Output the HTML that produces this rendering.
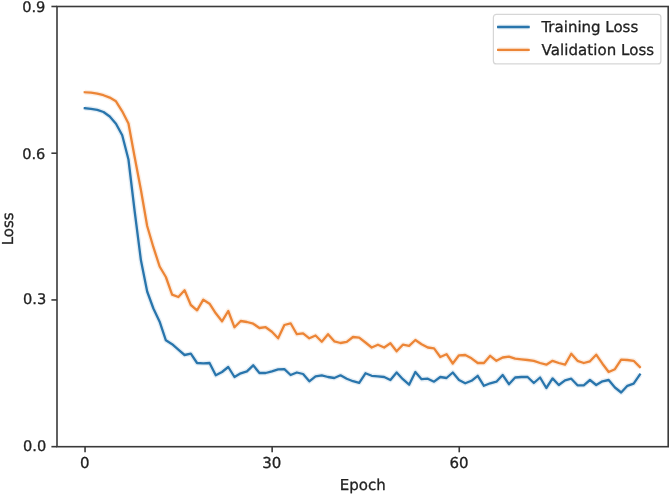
<!DOCTYPE html>
<html><head><meta charset="utf-8"><title>Loss</title>
<style>html,body{margin:0;padding:0;background:#fff}body{width:672px;height:495px;overflow:hidden}</style>
</head><body>
<svg width="672" height="495" viewBox="0 0 672 495" style="display:block">
<rect width="672" height="495" fill="#fff"/>
<g font-family="'DejaVu Sans','Liberation Sans',sans-serif" font-size="15" fill="#222222" stroke="#222222" stroke-width="0.3" style="text-rendering:geometricPrecision">
<polyline points="84.80,108.20 91.04,108.80 97.27,109.90 103.51,112.00 109.75,116.50 115.98,123.70 122.22,135.30 128.46,159.50 134.69,211.50 140.93,260.30 147.17,291.50 153.40,308.50 159.64,321.70 165.88,340.30 172.11,344.20 178.35,349.70 184.59,355.00 190.82,353.70 197.06,363.00 203.30,363.30 209.53,363.00 215.77,375.30 222.01,372.00 228.24,367.00 234.48,377.00 240.72,373.30 246.95,371.30 253.19,365.30 259.43,373.00 265.66,373.00 271.90,371.30 278.14,369.30 284.37,369.20 290.61,375.00 296.85,372.50 303.08,374.00 309.32,381.30 315.56,376.30 321.79,375.30 328.03,377.00 334.27,378.00 340.50,375.30 346.74,378.80 352.98,381.20 359.21,382.80 365.45,373.30 371.69,375.80 377.92,376.30 384.16,377.00 390.40,380.00 396.63,372.50 402.87,379.20 409.11,384.70 415.35,372.00 421.58,379.20 427.82,378.70 434.06,381.70 440.29,377.00 446.53,378.00 452.77,372.50 459.00,380.00 465.24,383.30 471.48,380.80 477.71,375.80 483.95,385.80 490.19,383.30 496.42,381.70 502.66,375.00 508.90,384.20 515.13,377.50 521.37,377.00 527.61,377.00 533.84,383.00 540.08,377.50 546.32,388.00 552.55,378.40 558.79,385.00 565.03,380.30 571.26,378.70 577.50,385.30 583.74,385.30 589.97,380.00 596.21,385.00 602.45,381.30 608.68,380.00 614.92,387.50 621.16,392.50 627.39,385.80 633.63,383.70 639.87,374.50" fill="none" stroke="#2975ac" stroke-opacity="0.12" stroke-width="5" stroke-linejoin="round"/>
<polyline points="84.80,92.30 91.04,92.70 97.27,93.60 103.51,95.20 109.75,97.60 115.98,101.30 122.22,111.30 128.46,123.50 134.69,157.30 140.93,190.00 147.17,226.00 153.40,247.20 159.64,266.50 165.88,277.00 172.11,294.60 178.35,297.00 184.59,290.30 190.82,305.00 197.06,310.30 203.30,299.70 209.53,303.70 215.77,313.30 222.01,321.30 228.24,311.00 234.48,327.30 240.72,321.00 246.95,322.00 253.19,323.70 259.43,328.00 265.66,327.20 271.90,331.70 278.14,338.30 284.37,325.00 290.61,323.30 296.85,334.20 303.08,333.30 309.32,338.30 315.56,335.50 321.79,341.70 328.03,334.20 334.27,341.30 340.50,343.00 346.74,341.80 352.98,337.00 359.21,337.60 365.45,342.50 371.69,347.50 377.92,344.70 384.16,347.50 390.40,343.30 396.63,351.30 402.87,344.70 409.11,345.80 415.35,340.00 421.58,344.20 427.82,347.50 434.06,348.30 440.29,357.00 446.53,354.20 452.77,363.50 459.00,355.30 465.24,355.00 471.48,358.30 477.71,363.00 483.95,363.00 490.19,355.80 496.42,360.80 502.66,357.50 508.90,356.70 515.13,358.70 521.37,359.30 527.61,360.00 533.84,360.80 540.08,363.00 546.32,364.70 552.55,360.80 558.79,363.00 565.03,364.70 571.26,353.70 577.50,360.80 583.74,363.00 589.97,361.30 596.21,354.70 602.45,363.70 608.68,372.00 614.92,369.20 621.16,359.70 627.39,360.00 633.63,360.80 639.87,367.00" fill="none" stroke="#ec8536" stroke-opacity="0.14" stroke-width="5" stroke-linejoin="round"/>
<polyline points="84.80,108.20 91.04,108.80 97.27,109.90 103.51,112.00 109.75,116.50 115.98,123.70 122.22,135.30 128.46,159.50 134.69,211.50 140.93,260.30 147.17,291.50 153.40,308.50 159.64,321.70 165.88,340.30 172.11,344.20 178.35,349.70 184.59,355.00 190.82,353.70 197.06,363.00 203.30,363.30 209.53,363.00 215.77,375.30 222.01,372.00 228.24,367.00 234.48,377.00 240.72,373.30 246.95,371.30 253.19,365.30 259.43,373.00 265.66,373.00 271.90,371.30 278.14,369.30 284.37,369.20 290.61,375.00 296.85,372.50 303.08,374.00 309.32,381.30 315.56,376.30 321.79,375.30 328.03,377.00 334.27,378.00 340.50,375.30 346.74,378.80 352.98,381.20 359.21,382.80 365.45,373.30 371.69,375.80 377.92,376.30 384.16,377.00 390.40,380.00 396.63,372.50 402.87,379.20 409.11,384.70 415.35,372.00 421.58,379.20 427.82,378.70 434.06,381.70 440.29,377.00 446.53,378.00 452.77,372.50 459.00,380.00 465.24,383.30 471.48,380.80 477.71,375.80 483.95,385.80 490.19,383.30 496.42,381.70 502.66,375.00 508.90,384.20 515.13,377.50 521.37,377.00 527.61,377.00 533.84,383.00 540.08,377.50 546.32,388.00 552.55,378.40 558.79,385.00 565.03,380.30 571.26,378.70 577.50,385.30 583.74,385.30 589.97,380.00 596.21,385.00 602.45,381.30 608.68,380.00 614.92,387.50 621.16,392.50 627.39,385.80 633.63,383.70 639.87,374.50" fill="none" stroke="#2975ac" stroke-width="2.3" stroke-linejoin="round" stroke-linecap="square"/>
<polyline points="84.80,92.30 91.04,92.70 97.27,93.60 103.51,95.20 109.75,97.60 115.98,101.30 122.22,111.30 128.46,123.50 134.69,157.30 140.93,190.00 147.17,226.00 153.40,247.20 159.64,266.50 165.88,277.00 172.11,294.60 178.35,297.00 184.59,290.30 190.82,305.00 197.06,310.30 203.30,299.70 209.53,303.70 215.77,313.30 222.01,321.30 228.24,311.00 234.48,327.30 240.72,321.00 246.95,322.00 253.19,323.70 259.43,328.00 265.66,327.20 271.90,331.70 278.14,338.30 284.37,325.00 290.61,323.30 296.85,334.20 303.08,333.30 309.32,338.30 315.56,335.50 321.79,341.70 328.03,334.20 334.27,341.30 340.50,343.00 346.74,341.80 352.98,337.00 359.21,337.60 365.45,342.50 371.69,347.50 377.92,344.70 384.16,347.50 390.40,343.30 396.63,351.30 402.87,344.70 409.11,345.80 415.35,340.00 421.58,344.20 427.82,347.50 434.06,348.30 440.29,357.00 446.53,354.20 452.77,363.50 459.00,355.30 465.24,355.00 471.48,358.30 477.71,363.00 483.95,363.00 490.19,355.80 496.42,360.80 502.66,357.50 508.90,356.70 515.13,358.70 521.37,359.30 527.61,360.00 533.84,360.80 540.08,363.00 546.32,364.70 552.55,360.80 558.79,363.00 565.03,364.70 571.26,353.70 577.50,360.80 583.74,363.00 589.97,361.30 596.21,354.70 602.45,363.70 608.68,372.00 614.92,369.20 621.16,359.70 627.39,360.00 633.63,360.80 639.87,367.00" fill="none" stroke="#ec8536" stroke-width="2.3" stroke-linejoin="round" stroke-linecap="square"/>
<rect x="57.0" y="6.5" width="611.2" height="440.2" fill="none" stroke="#3a3a3a" stroke-width="1.6"/>
<line x1="51.4" y1="6.48" x2="57.0" y2="6.48" stroke="#3a3a3a" stroke-width="1.6"/><text x="45.4" y="12.28" text-anchor="end" font-size="14.6">0.9</text><line x1="51.4" y1="153.21" x2="57.0" y2="153.21" stroke="#3a3a3a" stroke-width="1.6"/><text x="45.4" y="158.51" text-anchor="end" font-size="14.6">0.6</text><line x1="51.4" y1="299.94" x2="57.0" y2="299.94" stroke="#3a3a3a" stroke-width="1.6"/><text x="46.2" y="304.44" text-anchor="end" font-size="14.6">0.3</text><line x1="51.4" y1="446.67" x2="57.0" y2="446.67" stroke="#3a3a3a" stroke-width="1.6"/><text x="46.2" y="451.32" text-anchor="end" font-size="14.6">0.0</text>
<line x1="85.05" y1="446.7" x2="85.05" y2="452.3" stroke="#3a3a3a" stroke-width="1.6"/><text x="84.75" y="468.2" text-anchor="middle">0</text><line x1="272.15" y1="446.7" x2="272.15" y2="452.3" stroke="#3a3a3a" stroke-width="1.6"/><text x="271.84999999999997" y="468.2" text-anchor="middle">30</text><line x1="459.25" y1="446.7" x2="459.25" y2="452.3" stroke="#3a3a3a" stroke-width="1.6"/><text x="458.95" y="468.2" text-anchor="middle">60</text>
<text x="362.7" y="489.9" text-anchor="middle">Epoch</text>
<text transform="translate(13,228.8) rotate(-90)" text-anchor="middle">Loss</text>
<rect x="493.4" y="14.3" width="167.5" height="49.6" rx="3" ry="3" fill="#fff" fill-opacity="0.8" stroke="#ccc" stroke-opacity="0.8" stroke-width="1.2"/>
<line x1="498.2" y1="27.0" x2="528.6" y2="27.0" stroke="#2975ac" stroke-opacity="0.12" stroke-width="5"/>
<line x1="498.2" y1="49.9" x2="528.6" y2="49.9" stroke="#ec8536" stroke-opacity="0.14" stroke-width="5"/>
<line x1="498.2" y1="27.0" x2="528.6" y2="27.0" stroke="#2975ac" stroke-width="2.3" stroke-linecap="square"/>
<line x1="498.2" y1="49.9" x2="528.6" y2="49.9" stroke="#ec8536" stroke-width="2.3" stroke-linecap="square"/>
<text x="541.4" y="32.0">Training Loss</text>
<text x="541.6" y="55.2" letter-spacing="0.06">Validation Loss</text>
</g>
</svg>
</body></html>
